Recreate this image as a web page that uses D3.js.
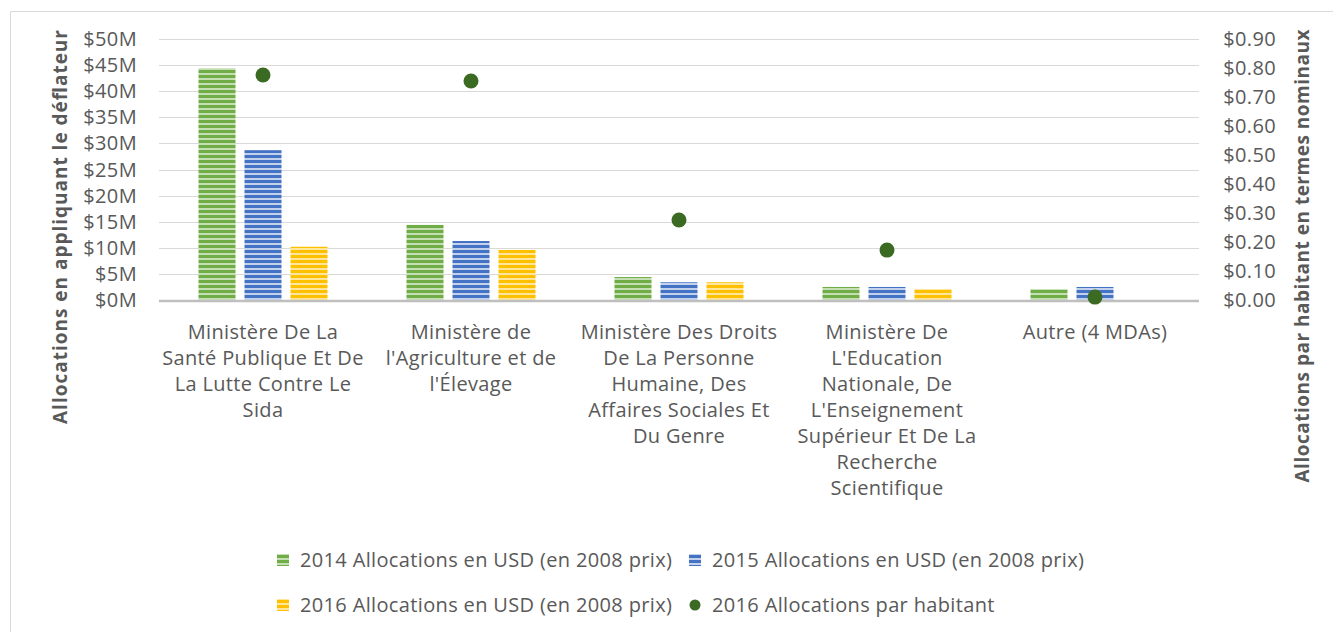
<!DOCTYPE html>
<html>
<head>
<meta charset="utf-8">
<script src="https://cdn.jsdelivr.net/npm/d3@7"></script>
<style>
    body { margin: 0; background: #fff; }
    svg { font-family: "Open Sans", sans-serif; }
</style>
</head>
<body>
<svg width="1333" height="632"></svg>
<script>
    // data
    let categories = [
        ["Ministère De La", "Santé Publique Et De", "La Lutte Contre Le", "Sida"],
        ["Ministère de", "l'Agriculture et de", "l'Élevage"],
        ["Ministère Des Droits", "De La Personne", "Humaine, Des", "Affaires Sociales Et", "Du Genre"],
        ["Ministère De", "L'Education", "Nationale, De", "L'Enseignement", "Supérieur Et De La", "Recherche", "Scientifique"],
        ["Autre (4 MDAs)"]
    ];
    let alloc2014 = [44.4, 14.4, 4.4, 2.5, 2.1];
    let alloc2015 = [28.7, 11.3, 3.4, 2.5, 2.5];
    let alloc2016 = [10.2, 9.6, 3.4, 2.1, 0];
    let perCapita2016 = [0.776, 0.755, 0.276, 0.172, 0.01];

    let leftTicks = [0, 5, 10, 15, 20, 25, 30, 35, 40, 45, 50];
    let rightTicks = [0, 0.1, 0.2, 0.3, 0.4, 0.5, 0.6, 0.7, 0.8, 0.9];

    let seriesNames = [
        "2014 Allocations en USD (en 2008 prix)",
        "2015 Allocations en USD (en 2008 prix)",
        "2016 Allocations en USD (en 2008 prix)",
        "2016 Allocations par habitant"
    ];

    let margin = { top: 39, right: 134, left: 159 };
    let width = 1333;
    let height = 632;
    let baseY = 300;

    let colors = ["#70ad47", "#4472c4", "#ffc000"];
    let lightColors = ["#c5dfb5", "#c3d1ec", "#ffe699"];
    let dotColor = "#3b6b23";
    let textColor = "#595959";
    let fontSize = "20px";
    let spacing = 0.35;

    let svg = d3.select("svg");

    // chart border (top and left edges only visible)
    svg.append("path")
        .attr("d", `M10.5,${height} V11.5 H${width}`)
        .style("fill", "none")
        .style("stroke", "#d9d9d9")
        .style("stroke-width", 1);

    // stripe patterns
    let defs = svg.append("defs");
    colors.forEach(function (c, i) {
        let p = defs.append("pattern")
            .attr("id", "stripe" + i)
            .attr("patternUnits", "userSpaceOnUse")
            .attr("width", 8)
            .attr("height", 5);
        p.append("rect").attr("width", 8).attr("height", 5).attr("fill", c);
        p.append("rect").attr("y", 3).attr("width", 8).attr("height", 2).attr("fill", lightColors[i]);
    });

    let x = d3.scaleBand()
        .domain(d3.range(categories.length))
        .range([margin.left, width - margin.right]);

    let x1 = d3.scaleBand()
        .domain([0, 1, 2])
        .range([0, x.bandwidth()])
        .paddingInner(0.1957)
        .paddingOuter(0.859);

    let y = d3.scaleLinear()
        .domain([0, 50])
        .range([baseY, margin.top]);

    let y2 = d3.scaleLinear()
        .domain([0, 0.9])
        .range([baseY, margin.top]);

    // gridlines
    svg.append("g")
        .selectAll("line")
        .data(leftTicks.slice(1))
        .join("line")
        .attr("x1", margin.left)
        .attr("x2", width - margin.right)
        .attr("y1", d => Math.round(y(d)) + 0.5)
        .attr("y2", d => Math.round(y(d)) + 0.5)
        .style("stroke", "#d9d9d9")
        .style("stroke-width", 1);

    // left axis labels
    svg.append("g")
        .selectAll("text")
        .data(leftTicks)
        .join("text")
        .attr("x", 137)
        .attr("y", d => y(d))
        .attr("dy", "0.35em")
        .attr("text-anchor", "end")
        .attr("letter-spacing", spacing)
        .style("font-size", fontSize)
        .style("fill", textColor)
        .text(d => "$" + d + "M");

    // right axis labels
    svg.append("g")
        .selectAll("text")
        .data(rightTicks)
        .join("text")
        .attr("x", 1276)
        .attr("y", d => y2(d))
        .attr("dy", "0.35em")
        .attr("text-anchor", "end")
        .attr("letter-spacing", spacing)
        .style("font-size", fontSize)
        .style("fill", textColor)
        .text(d => "$" + d.toFixed(2));

    // bars
    let barSeries = [alloc2014, alloc2015, alloc2016];
    barSeries.forEach(function (vals, s) {
        svg.append("g")
            .selectAll("rect")
            .data(vals)
            .join("rect")
            .attr("x", (d, i) => x(i) + x1(s))
            .attr("width", x1.bandwidth())
            .attr("y", d => y(d))
            .attr("height", d => y(0) - y(d))
            .attr("fill", "url(#stripe" + s + ")");
    });

    // baseline
    svg.append("line")
        .attr("x1", margin.left)
        .attr("x2", width - margin.right)
        .attr("y1", y(0) + 1)
        .attr("y2", y(0) + 1)
        .style("stroke", "#bfbfbf")
        .style("stroke-width", 2.5);

    // per capita dots
    svg.append("g")
        .selectAll("circle")
        .data(perCapita2016)
        .join("circle")
        .attr("cx", (d, i) => x(i) + x.bandwidth() / 2)
        .attr("cy", d => y2(d))
        .attr("r", 7.5)
        .attr("fill", dotColor);

    // category labels
    let catLabels = svg.append("g")
        .selectAll("text")
        .data(categories)
        .join("text")
        .attr("text-anchor", "middle")
        .attr("letter-spacing", spacing)
        .style("font-size", fontSize)
        .style("fill", textColor);

    catLabels.selectAll("tspan")
        .data((d, i) => d.map(line => ({ line: line, i: i })))
        .join("tspan")
        .attr("x", d => x(d.i) + x.bandwidth() / 2)
        .attr("y", (d, j) => 339 + j * 26)
        .text(d => d.line);

    // axis titles
    svg.append("text")
        .attr("transform", "translate(67, 227) rotate(-90)")
        .attr("text-anchor", "middle")
        .attr("textLength", 394)
        .attr("lengthAdjust", "spacing")
        .style("font-size", "19px")
        .style("font-weight", "bold")
        .style("fill", textColor)
        .text("Allocations en appliquant le déflateur");

    svg.append("text")
        .attr("transform", "translate(1309, 256) rotate(-90)")
        .attr("text-anchor", "middle")
        .attr("textLength", 453)
        .attr("lengthAdjust", "spacing")
        .style("font-size", "19px")
        .style("font-weight", "bold")
        .style("fill", textColor)
        .text("Allocations par habitant en termes nominaux");

    // legend
    let legendPos = [[277, 560], [689, 560], [277, 605], [689, 605]];
    let legend = svg.append("g")
        .selectAll("g")
        .data(seriesNames)
        .join("g")
        .attr("transform", (d, i) => `translate(${legendPos[i][0]}, ${legendPos[i][1]})`);

    legend.filter((d, i) => i < 3)
        .append("rect")
        .attr("x", 0)
        .attr("y", -6)
        .attr("width", 12)
        .attr("height", 12)
        .attr("fill", (d, i) => "url(#stripe" + i + ")");

    legend.filter((d, i) => i == 3)
        .append("circle")
        .attr("cx", 6)
        .attr("cy", 0)
        .attr("r", 5.5)
        .attr("fill", dotColor);

    legend.append("text")
        .attr("x", 23)
        .attr("y", 0)
        .attr("dy", "0.35em")
        .attr("letter-spacing", spacing)
        .style("font-size", fontSize)
        .style("fill", textColor)
        .text(d => d);
</script>
</body>
</html>
